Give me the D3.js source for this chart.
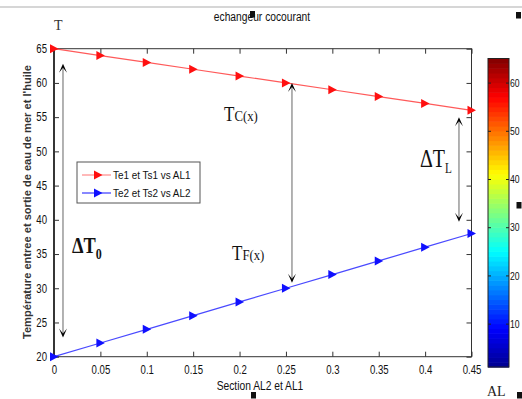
<!DOCTYPE html>
<html><head><meta charset="utf-8">
<script src="https://cdn.jsdelivr.net/npm/d3@7"></script>
<style>
body{margin:0;background:#fff}
svg{display:block;font-family:"Liberation Sans",Arial,sans-serif}
</style>
</head><body>
<svg id="chart" width="522" height="399"></svg>
<script>
// Section positions and temperatures of the two streams
const sections = [0, 0.05, 0.1, 0.15, 0.2, 0.25, 0.3, 0.35, 0.4, 0.45];
const hotTemps = [65, 64, 63, 62, 61, 60, 59, 58, 57, 56];
const coldTemps = [20, 22, 24, 26, 28, 30, 32, 34, 36, 38];
const xTicks = [0, 0.05, 0.1, 0.15, 0.2, 0.25, 0.3, 0.35, 0.4, 0.45];
const yTicks = [20, 25, 30, 35, 40, 45, 50, 55, 60, 65];
const cbTicks = [10, 20, 30, 40, 50, 60];
const cbDomain = [1, 65];
const seriesNames = ["Te1 et Ts1 vs AL1", "Te2 et Ts2 vs AL2"];
const seriesColors = ["#ff1010", "#1010ff"];
const lineColors = ["#ff5a5a", "#4a4aff"];
// Double-headed arrows: x position, upper and lower temperature
const arrowX = [0.0097, 0.2565, 0.4365];
const arrowTop = [62.8, 60.0, 55.0];
const arrowBottom = [22.8, 30.8, 39.7];

const svg = d3.select("#chart");
const x = d3.scaleLinear().domain([0, 0.45]).range([54, 471.5]);
const y = d3.scaleLinear().domain([20, 65]).range([356.7, 48.7]);

// squeeze a text horizontally to mimic a narrow face
function narrow(sel, k = 0.8) {
  sel.each(function () {
    const w = this.getComputedTextLength();
    if (w > 0) d3.select(this).attr("textLength", w * k).attr("lengthAdjust", "spacingAndGlyphs");
  });
}

// thin gray rule along the top of the figure
svg.append("line").attr("x1", 0).attr("x2", 522).attr("y1", 7).attr("y2", 7)
  .attr("stroke", "#c8c8c8").attr("stroke-width", 1.5);

// axes box
const [x0, x1] = x.range(), [y0, y1] = y.range();
svg.append("rect").attr("x", x0).attr("y", y1).attr("width", x1 - x0).attr("height", y0 - y1)
  .attr("fill", "none").attr("stroke", "#333").attr("stroke-width", 1);
svg.append("line").attr("x1", x0).attr("x2", x0).attr("y1", y1).attr("y2", y0)
  .attr("stroke", "#000").attr("stroke-width", 1.3);

// inward ticks on all four sides
const tl = 5;
const xAxisB = d3.axisBottom(x).tickValues(xTicks).tickSize(-tl).tickPadding(tl + 4)
  .tickFormat(d => d3.format("")(+d.toFixed(2)));
const gxB = svg.append("g").attr("transform", `translate(0,${y0})`).call(xAxisB);
const gxT = svg.append("g").attr("transform", `translate(0,${y1})`)
  .call(d3.axisTop(x).tickValues(xTicks).tickSize(-tl).tickFormat(""));
const gyL = svg.append("g").attr("transform", `translate(${x0},0)`)
  .call(d3.axisLeft(y).tickValues(yTicks).tickSize(-tl).tickPadding(tl + 2));
const gyR = svg.append("g").attr("transform", `translate(${x1},0)`)
  .call(d3.axisRight(y).tickValues(yTicks).tickSize(-tl).tickFormat(""));
[gxB, gxT, gyL, gyR].forEach(g => {
  g.select(".domain").remove();
  g.selectAll(".tick line").attr("stroke", "#333");
  g.selectAll("text").attr("font-size", 12).attr("fill", "#111")
    .attr("font-family", '"Liberation Sans",Arial,sans-serif').call(narrow, 0.8);
});

// data lines with right-pointing triangle markers
const tri = "M-4,-4.5L4.5,0L-4,4.5Z";
[hotTemps, coldTemps].forEach((vals, i) => {
  const pts = sections.map((s, k) => [x(s), y(vals[k])]);
  svg.append("path").attr("d", d3.line()(pts)).attr("fill", "none")
    .attr("stroke", lineColors[i]).attr("stroke-width", 1.2);
  svg.append("g").selectAll("path").data(pts).join("path")
    .attr("d", tri).attr("transform", d => `translate(${d[0]},${d[1]})`)
    .attr("fill", seriesColors[i]);
});

// arrows
function head(px, py, dir) {
  // dir = -1 pointing up, +1 pointing down
  const L = 9, W = 4, notch = 4;
  return `M${px},${py}L${px - W},${py - dir * L}L${px},${py - dir * notch}L${px + W},${py - dir * L}Z`;
}
arrowX.forEach((ax, i) => {
  const px = x(ax), pt = y(arrowTop[i]), pb = y(arrowBottom[i]);
  svg.append("line").attr("x1", px).attr("x2", px).attr("y1", pt + 4).attr("y2", pb - 4)
    .attr("stroke", "#666").attr("stroke-width", 1);
  svg.append("path").attr("d", head(px, pt, -1)).attr("fill", "#000");
  svg.append("path").attr("d", head(px, pb, 1)).attr("fill", "#000");
});

// annotation text (serif)
function note(tx, ty, sx, parts) {
  const g = svg.append("g").attr("transform", `translate(${tx},${ty}) scale(${sx},1)`);
  const t = g.append("text").attr("font-family", '"Liberation Serif","Times New Roman",serif').attr("fill", "#111");
  parts.forEach(p => {
    const s = t.append("tspan").text(p.t).attr("font-size", p.s);
    if (p.dy) s.attr("dy", p.dy);
    if (p.b) s.attr("font-weight", "bold");
  });
}
note(224, 121, 0.85, [{t: "T", s: 20}, {t: "C(x)", s: 15}]);
note(232, 260, 0.85, [{t: "T", s: 20}, {t: "F(x)", s: 15}]);
note(420, 167, 0.8, [{t: "ΔT", s: 25}, {t: "L", s: 14, dy: 6}]);
note(72, 253, 0.8, [{t: "ΔT", s: 23, b: true}, {t: "0", s: 15, dy: 6, b: true}]);

// legend
const lg = svg.append("g");
lg.append("rect").attr("x", 77).attr("y", 162).attr("width", 123).attr("height", 41)
  .attr("fill", "#fff").attr("stroke", "#555").attr("stroke-width", 1);
seriesNames.forEach((name, i) => {
  const ly = 175 + i * 18;
  lg.append("line").attr("x1", 82).attr("x2", 111).attr("y1", ly).attr("y2", ly)
    .attr("stroke", i === 0 ? "#ff8a8a" : "#3a3aff").attr("stroke-width", 1.2);
  lg.append("path").attr("d", tri).attr("transform", `translate(98,${ly})`).attr("fill", seriesColors[i]);
  lg.append("text").attr("x", 113).attr("y", ly + 4).text(name)
    .attr("font-size", 11).attr("fill", "#111").call(narrow, 0.9);
});

// axis labels and title
svg.append("text").attr("x", 262).attr("y", 21).attr("text-anchor", "middle")
  .attr("font-size", 12.5).attr("fill", "#111").text("echangeur cocourant").call(narrow, 0.82);
svg.append("text").attr("x", 260).attr("y", 390).attr("text-anchor", "middle")
  .attr("font-size", 12.5).attr("fill", "#111").text("Section AL2 et AL1").call(narrow, 0.82);
svg.append("text").attr("transform", "translate(31,202) rotate(-90)").attr("text-anchor", "middle")
  .attr("font-size", 11.5).attr("font-weight", "bold").attr("fill", "#333")
  .attr("textLength", 274).attr("lengthAdjust", "spacingAndGlyphs")
  .text("Température entree et sortie de eau de mer et l'huile");
svg.append("text").attr("x", 54).attr("y", 30).attr("font-family", '"Liberation Serif",serif')
  .attr("font-size", 14).attr("fill", "#333").text("T");

// jet colour bar
const jet = d3.scaleLinear()
  .domain([0, 0.125, 0.375, 0.625, 0.875, 1])
  .range(["#00008f", "#0000ff", "#00ffff", "#ffff00", "#ff0000", "#800000"]);
const cb = d3.scaleLinear().domain(cbDomain).range([367, 58.5]);
const cbX = 488, cbW = 21;
const steps = d3.range(64);
svg.append("g").selectAll("rect").data(steps).join("rect")
  .attr("x", cbX).attr("width", cbW)
  .attr("y", d => cb(cbDomain[0] + (d + 1) * (cbDomain[1] - cbDomain[0]) / 64))
  .attr("height", (cb.range()[0] - cb.range()[1]) / 64 + 0.6)
  .attr("fill", d => jet((d + 0.5) / 64));
svg.append("rect").attr("x", cbX).attr("y", cb.range()[1]).attr("width", cbW)
  .attr("height", cb.range()[0] - cb.range()[1]).attr("fill", "none").attr("stroke", "#222");
const gcb = svg.append("g").attr("transform", `translate(${cbX + cbW},0)`)
  .call(d3.axisRight(cb).tickValues(cbTicks).tickSize(-3).tickPadding(1));
gcb.select(".domain").remove();
gcb.selectAll(".tick line").attr("stroke", "#222");
gcb.selectAll("text").attr("font-size", 11.5).attr("fill", "#111").call(narrow, 0.75);
svg.append("g").attr("transform", `translate(${cbX},0)`)
  .call(d3.axisLeft(cb).tickValues(cbTicks).tickSize(-3).tickFormat(""))
  .call(g => g.select(".domain").remove()).selectAll("line").attr("stroke", "#222");
svg.append("text").attr("x", 487).attr("y", 396).attr("font-family", '"Liberation Serif",serif')
  .attr("font-size", 14).attr("fill", "#222").text("AL");

// small selection handles
const handles = [[250, 11], [516, 12], [516.5, 202], [251, 392], [517, 392]];
svg.append("g").selectAll("rect").data(handles).join("rect")
  .attr("x", d => d[0]).attr("y", d => d[1]).attr("width", 5).attr("height", 6.5).attr("fill", "#111");
</script>
</body></html>
